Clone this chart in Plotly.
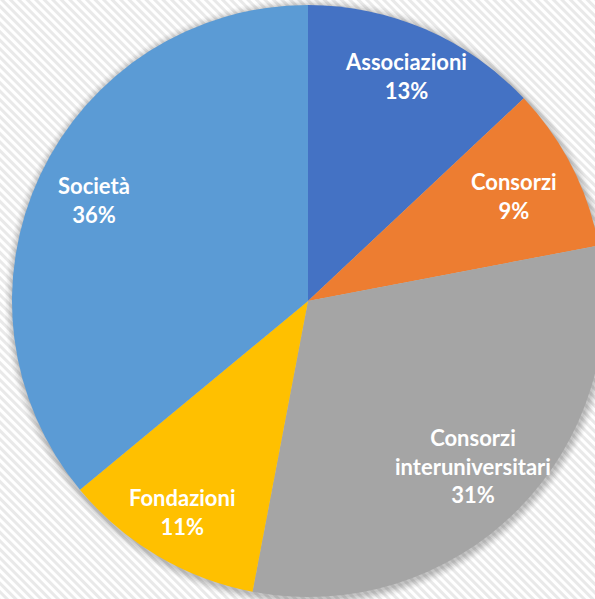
import base64, math
import plotly.graph_objects as go

# ---- data ----
categories = ["Associazioni", "Consorzi", "Consorzi<br>interuniversitari", "Fondazioni", "Società"]
values = [13, 9, 31, 11, 36]

# ---- style ----
colors = ["#4472C4", "#ED7D31", "#A5A5A5", "#FFC000", "#5B9BD5"]
label_radius = [0.83, 0.78, 0.79, 0.83, 0.80]

W, H = 610, 599          # figure size (px)
CX, CY, R = 308, 301, 296  # pie centre / radius in px

fig = go.Figure(go.Pie(
    labels=categories, values=values, sort=False, direction="clockwise",
    rotation=0, marker=dict(colors=colors, line=dict(width=0)),
    textinfo="none", hoverinfo="label+percent", showlegend=False,
    domain=dict(x=[(CX - R) / W, (CX + R) / W], y=[1 - (CY + R) / H, 1 - (CY - R) / H]),
))

# labels along slice bisectors
total = sum(values)
cum = 0
for cat, v, k in zip(categories, values, label_radius):
    mid = (cum + v / 2) / total * 2 * math.pi
    cum += v
    px = CX + k * R * math.sin(mid)
    py = CY - k * R * math.cos(mid)
    fig.add_annotation(x=px / W, y=1 - py / H, xref="paper", yref="paper",
                       text=f"{cat}<br>{round(v / total * 100)}%", showarrow=False,
                       font=dict(family="Lato", size=22, color="white", weight="bold"),
                       align="center", xanchor="center", yanchor="middle")

# soft shadow round the pie
for i, a in enumerate([0.05, 0.05, 0.05, 0.04, 0.03, 0.02]):
    rr = R + 1 + i * 1.5
    fig.add_shape(type="circle", xref="paper", yref="paper", layer="below",
                  x0=(CX - rr + 1) / W, x1=(CX + rr + 1) / W,
                  y0=1 - (CY + rr + 2) / H, y1=1 - (CY - rr + 2) / H,
                  fillcolor=f"rgba(0,0,0,{a})", line=dict(width=0))

# striped background
svg = (f'<svg xmlns="http://www.w3.org/2000/svg" width="{W}" height="{H}">'
       '<defs><pattern id="p" width="6" height="6" patternUnits="userSpaceOnUse" '
       'patternTransform="rotate(-45)"><rect width="6" height="6" fill="#ffffff"/>'
       '<rect width="3" height="6" fill="#e9e9e9"/></pattern></defs>'
       f'<rect width="{W}" height="{H}" fill="url(#p)"/></svg>')
uri = "data:image/svg+xml;base64," + base64.b64encode(svg.encode()).decode()
fig.add_layout_image(source=uri, xref="paper", yref="paper", x=0, y=1,
                     sizex=1, sizey=1, sizing="stretch", layer="below",
                     xanchor="left", yanchor="top")

fig.update_layout(width=W, height=H, margin=dict(l=0, r=0, t=0, b=0),
                  paper_bgcolor="white", plot_bgcolor="white")

fig.write_html("out.html", config={"displayModeBar": False},
               post_script="document.body.style.margin='0';document.body.style.overflow='hidden';")
